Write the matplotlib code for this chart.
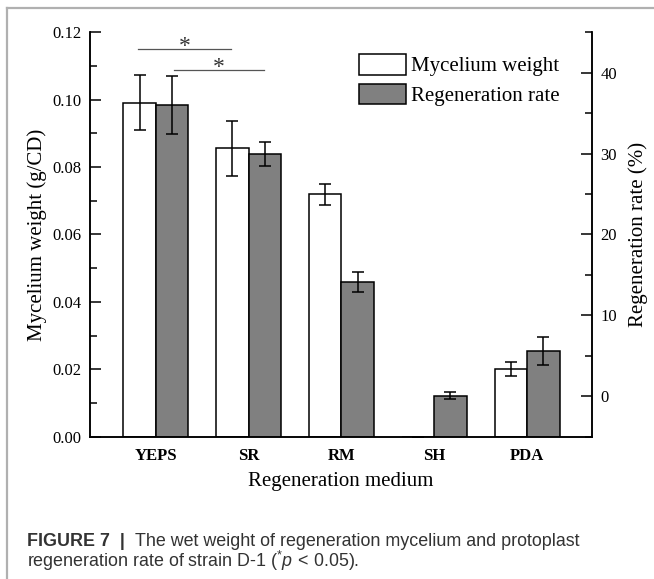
import numpy as np
import matplotlib
matplotlib.use('Agg')
import matplotlib.pyplot as plt
from matplotlib.lines import Line2D
from matplotlib.ticker import MultipleLocator

# ----------------------------- data ------------------------------------------
media = ['YEPS', 'SR', 'RM', 'SH', 'PDA']
weight = [0.0991, 0.0855, 0.0719, 0.0, 0.0201]          # g/CD
weight_err = [0.0081, 0.0082, 0.0032, 0.0, 0.0021]
regen = [36.0, 29.9, 14.1, 0.1, 5.6]                     # %
regen_err = [3.6, 1.5, 1.25, 0.4, 1.7]

# significance brackets: (x start, x end, height on left axis)
sig_lines = [(0.81, 1.81, 0.1149), (1.19, 2.16, 0.1087)]
# ------------------------------------------------------------------------------

plt.rcParams['font.family'] = ['Liberation Serif', 'DejaVu Serif']
plt.rcParams['mathtext.fontset'] = 'custom'
plt.rcParams['mathtext.rm'] = 'Liberation Sans'
plt.rcParams['mathtext.it'] = 'Liberation Sans:italic'

fig = plt.figure(figsize=(6.54, 5.79), dpi=100)
ax = fig.add_axes([0.1376, 0.2453, 0.7676, 0.6994])
ax2 = ax.twinx()

x = np.arange(1, len(media) + 1)
w = 0.35
ymin2 = -5

b1 = ax.bar(x - w/2, weight, w, color='white', edgecolor='black', linewidth=1.1,
            yerr=weight_err, capsize=4.5,
            error_kw=dict(elinewidth=1.1, capthick=1.1, ecolor='black'))
b2 = ax2.bar(x + w/2, np.array(regen) - ymin2, w, bottom=ymin2, color='#808080',
             edgecolor='black', linewidth=1.1, yerr=regen_err, capsize=4.5,
             error_kw=dict(elinewidth=1.1, capthick=1.1, ecolor='black'))

ax.set_xlim(0.29, 5.70)
ax.set_ylim(0, 0.12)
ax2.set_ylim(-5, 45)

ax.yaxis.set_major_locator(MultipleLocator(0.02))
ax.yaxis.set_minor_locator(MultipleLocator(0.01))
ax.set_yticklabels(['{:.2f}'.format(v) for v in ax.get_yticks()])
ax2.yaxis.set_major_locator(MultipleLocator(10))
ax2.yaxis.set_minor_locator(MultipleLocator(5))

ax.set_xticks(x)
ax.set_xticklabels(media, fontweight='bold', fontsize=12)
ax.tick_params(axis='x', length=0, pad=8)
ax.tick_params(axis='y', which='major', direction='in', length=8, width=1.1,
               labelsize=12, pad=6)
ax.tick_params(axis='y', which='minor', direction='in', length=5, width=1.1)
ax2.tick_params(axis='y', which='major', direction='in', length=8, width=1.1,
                labelsize=12, pad=6)
ax2.tick_params(axis='y', which='minor', direction='in', length=5, width=1.1)

for a in (ax, ax2):
    a.spines['top'].set_visible(False)
    for s in ('left', 'right', 'bottom'):
        a.spines[s].set_linewidth(1.1)

ax.set_ylabel('Mycelium weight (g/CD)', fontsize=15, labelpad=4)
ax2.set_ylabel('Regeneration rate (%)', fontsize=15, labelpad=8)
ax.set_xlabel('Regeneration medium', fontsize=15, labelpad=6)

for x0, x1, yy in sig_lines:
    ax.plot([x0, x1], [yy, yy], color='#555555', linewidth=0.9, clip_on=False)
    ax.text((x0 + x1) / 2, yy - 0.0007, '*', ha='center', va='baseline',
            fontsize=17, color='#333333')

ax2.legend([b1, b2], ['Mycelium weight', 'Regeneration rate'], loc='upper left',
           bbox_to_anchor=(0.536, 0.945), frameon=False, fontsize=15,
           handlelength=2.25, handleheight=1.12, handletextpad=0.25,
           labelspacing=0.37, borderpad=0, borderaxespad=0)

# frame of the figure panel
fig.add_artist(Line2D([0.0112, 1.0], [0.9857, 0.9857], color='#b0b0b0', lw=1.6))
fig.add_artist(Line2D([0.0112, 0.0112], [0.0, 0.9857], color='#b0b0b0', lw=1.6))

# caption
cap_x = 27 / 654
cap_fs = 12.9
t1 = fig.text(cap_x, 1 - 546 / 579, 'FIGURE 7  |  ', family='Liberation Sans',
              fontweight='bold', fontsize=cap_fs, color='#333333', va='baseline')
fig.canvas.draw()
bb = t1.get_window_extent(fig.canvas.get_renderer())
fig.text(bb.x1 / fig.bbox.width, 1 - 546 / 579,
         'The wet weight of regeneration mycelium and protoplast',
         family='Liberation Sans', fontsize=cap_fs, color='#333333', va='baseline')
fig.text(cap_x, 1 - 567 / 579,
         r'regeneration rate of strain D-1 ($^{*}\mathit{p}\,<\,0.05$).',
         family='Liberation Sans', fontsize=cap_fs, color='#333333', va='baseline')

plt.savefig('out.png', dpi=100)
